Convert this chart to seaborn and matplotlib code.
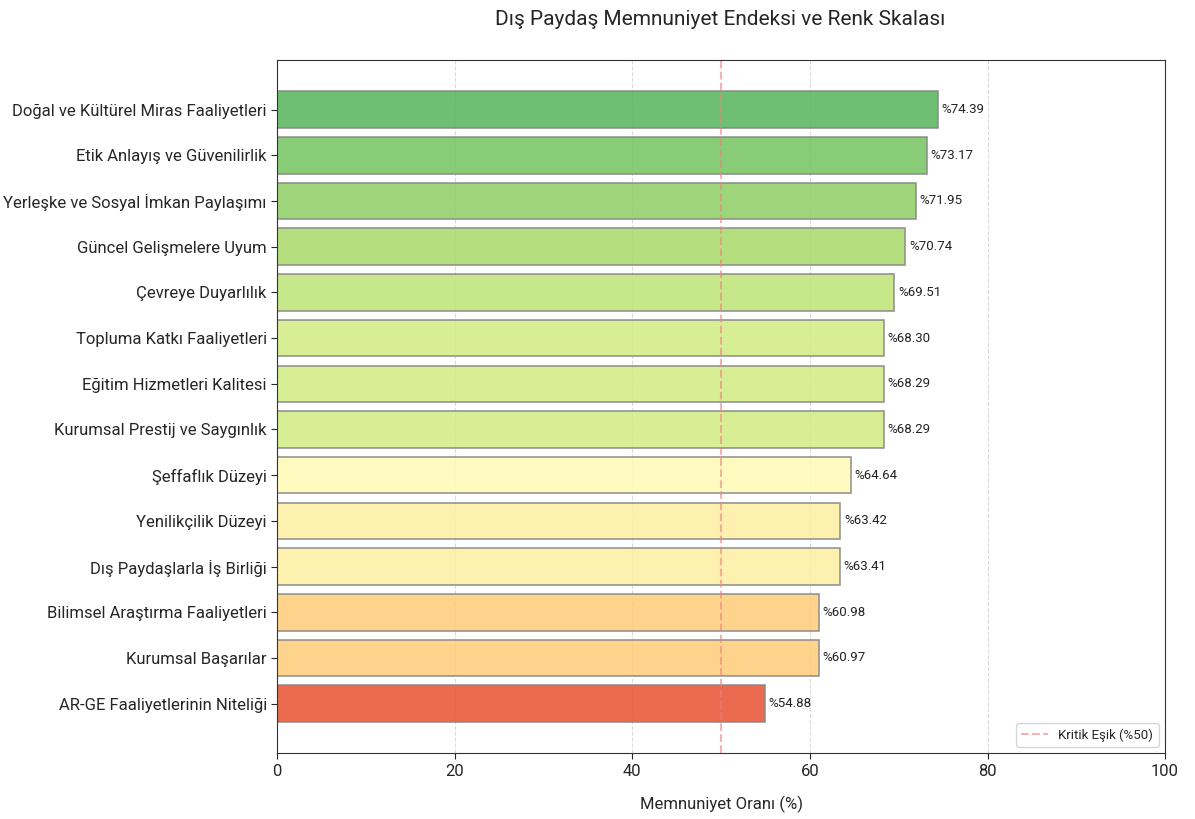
import numpy as np
import pandas as pd
import seaborn as sns
import matplotlib.pyplot as plt
from matplotlib import colors as mcolors

kategoriler = [
    'Doğal ve Kültürel Miras Faaliyetleri',
    'Etik Anlayış ve Güvenilirlik',
    'Yerleşke ve Sosyal İmkan Paylaşımı',
    'Güncel Gelişmelere Uyum',
    'Çevreye Duyarlılık',
    'Topluma Katkı Faaliyetleri',
    'Eğitim Hizmetleri Kalitesi',
    'Kurumsal Prestij ve Saygınlık',
    'Şeffaflık Düzeyi',
    'Yenilikçilik Düzeyi',
    'Dış Paydaşlarla İş Birliği',
    'Bilimsel Araştırma Faaliyetleri',
    'Kurumsal Başarılar',
    'AR-GE Faaliyetlerinin Niteliği',
]
oranlar = [74.39, 73.17, 71.95, 70.74, 69.51, 68.30, 68.29, 68.29,
           64.64, 63.42, 63.41, 60.98, 60.97, 54.88]
esik = 50

sns.set_style('white')
plt.rcParams['font.family'] = ['Roboto', 'DejaVu Sans']

df = pd.DataFrame({'kategori': kategoriler, 'oran': oranlar})

# renk skalasi
norm = mcolors.Normalize(vmin=50, vmax=80)
cmap = plt.get_cmap('RdYlGn')
renkler = [cmap(norm(v)) for v in oranlar]

fig = plt.figure(figsize=(11.95, 8.19), dpi=100)
ax = fig.add_axes([0.232, 0.080, 0.743, 0.847])

sns.barplot(data=df, y='kategori', x='oran', hue='kategori', palette=renkler,
            orient='h', legend=False, width=0.8, alpha=0.88, saturation=1,
            edgecolor='#888888', linewidth=1.2, ax=ax)

for i, v in enumerate(oranlar):
    ax.text(v + 0.4, i, f'%{v:.2f}', va='center', ha='left', fontsize=9.5, color='#222222')

ax.axvline(esik, color='#f08080', linestyle='--', linewidth=1.5, alpha=0.6, label='Kritik Eşik (%50)')

n = len(kategoriler)
ax.set_ylim(n - 1 + 0.4 + 0.69, -0.4 - 0.69)
ax.set_xlim(0, 100)
ax.set_xticks([0, 20, 40, 60, 80, 100])
ax.xaxis.grid(True, linestyle='--', color='#cccccc', alpha=0.7)
ax.set_axisbelow(True)
ax.set_ylabel('')
ax.set_xlabel('Memnuniyet Oranı (%)', fontsize=12, labelpad=12)
ax.tick_params(axis='y', labelsize=12, left=True, length=4)
ax.tick_params(axis='x', labelsize=12, bottom=True, length=4)
for s in ax.spines.values():
    s.set_color('#333333')

ax.legend(loc='lower right', fontsize=9.5, frameon=True)
fig.suptitle('Dış Paydaş Memnuniyet Endeksi ve Renk Skalası', fontsize=15, x=0.603, y=0.988)

plt.savefig('out.png', dpi=100)
